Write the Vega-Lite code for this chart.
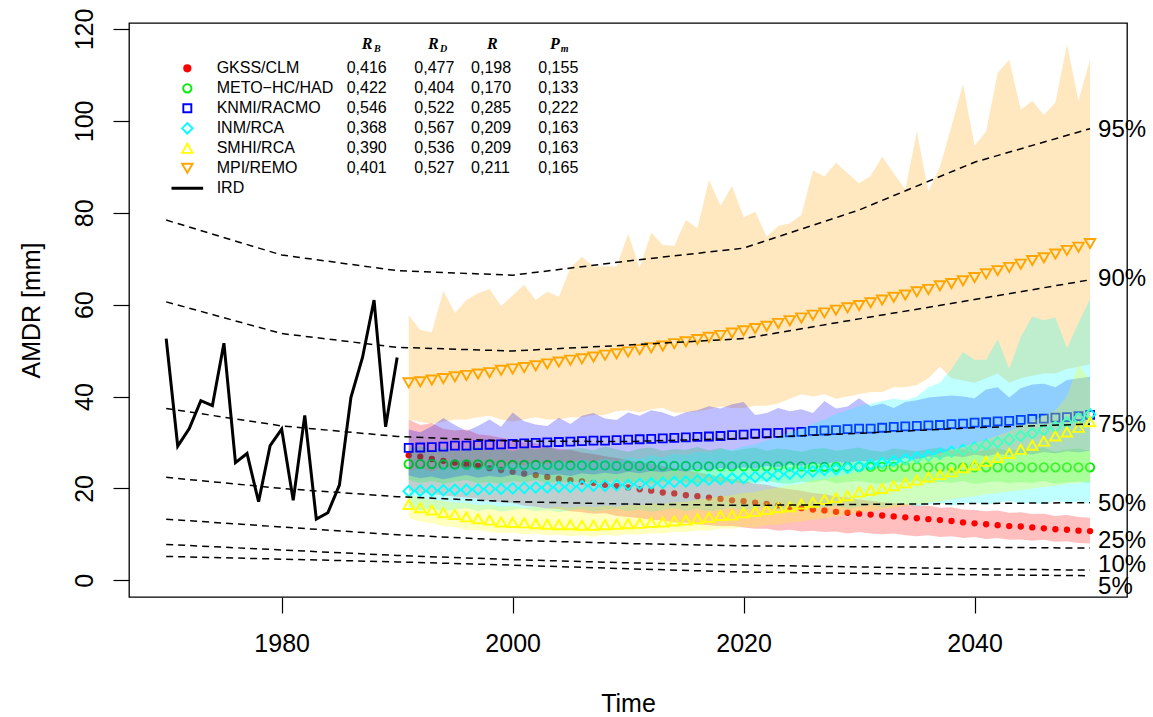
{
"$schema":"https://vega.github.io/schema/vega-lite/v6.json",
"width":998,"height":574,
"autosize":{"type":"none"},
"padding":{"left":129,"top":23,"right":26,"bottom":120},
"background":"white",
"config":{"view":{"stroke":"black","strokeWidth":1.3},"font":"Liberation Sans","text":{"font":"Liberation Sans"}},
"datasets":{
"ird":[{"year":1970,"v":52.6},{"year":1971,"v":29.2},{"year":1972,"v":33.0},{"year":1973,"v":39.1},{"year":1974,"v":38.0},{"year":1975,"v":51.6},{"year":1976,"v":25.6},{"year":1977,"v":27.6},{"year":1978,"v":17.1},{"year":1979,"v":29.3},{"year":1980,"v":32.9},{"year":1981,"v":17.4},{"year":1982,"v":35.9},{"year":1983,"v":13.3},{"year":1984,"v":14.7},{"year":1985,"v":20.7},{"year":1986,"v":39.8},{"year":1987,"v":48.5},{"year":1988,"v":61.0},{"year":1989,"v":33.4},{"year":1990,"v":48.5}],
"pct":[
{"p":"95","year":1970,"v":78.4},{"p":"95","year":1980,"v":70.8},{"p":"95","year":1990,"v":67.4},{"p":"95","year":2000,"v":66.4},{"p":"95","year":2010,"v":69.5},{"p":"95","year":2020,"v":72.3},{"p":"95","year":2030,"v":80.6},{"p":"95","year":2040,"v":91.0},{"p":"95","year":2050,"v":98.3},
{"p":"90","year":1970,"v":60.6},{"p":"90","year":1980,"v":53.7},{"p":"90","year":1990,"v":50.7},{"p":"90","year":2000,"v":49.9},{"p":"90","year":2010,"v":51.2},{"p":"90","year":2020,"v":52.6},{"p":"90","year":2030,"v":56.9},{"p":"90","year":2040,"v":61.1},{"p":"90","year":2050,"v":65.4},
{"p":"75","year":1970,"v":37.4},{"p":"75","year":1980,"v":33.6},{"p":"75","year":1990,"v":31.3},{"p":"75","year":2000,"v":30.3},{"p":"75","year":2010,"v":30.2},{"p":"75","year":2020,"v":30.9},{"p":"75","year":2030,"v":32.0},{"p":"75","year":2040,"v":33.2},{"p":"75","year":2050,"v":34.0},
{"p":"50","year":1970,"v":22.4},{"p":"50","year":1980,"v":20.0},{"p":"50","year":1990,"v":18.2},{"p":"50","year":2000,"v":17.1},{"p":"50","year":2010,"v":16.6},{"p":"50","year":2020,"v":16.3},{"p":"50","year":2030,"v":16.5},{"p":"50","year":2040,"v":16.7},{"p":"50","year":2050,"v":16.9},
{"p":"25","year":1970,"v":13.3},{"p":"25","year":1980,"v":11.6},{"p":"25","year":1990,"v":9.9},{"p":"25","year":2000,"v":8.7},{"p":"25","year":2010,"v":8.0},{"p":"25","year":2020,"v":7.5},{"p":"25","year":2030,"v":7.3},{"p":"25","year":2040,"v":7.2},{"p":"25","year":2050,"v":7.0},
{"p":"10","year":1970,"v":7.8},{"p":"10","year":1980,"v":6.6},{"p":"10","year":1990,"v":5.4},{"p":"10","year":2000,"v":4.5},{"p":"10","year":2010,"v":3.8},{"p":"10","year":2020,"v":3.3},{"p":"10","year":2030,"v":2.9},{"p":"10","year":2040,"v":2.5},{"p":"10","year":2050,"v":2.2},
{"p":"5","year":1970,"v":5.2},{"p":"5","year":1980,"v":4.6},{"p":"5","year":1990,"v":4.0},{"p":"5","year":2000,"v":3.3},{"p":"5","year":2010,"v":2.5},{"p":"5","year":2020,"v":1.8},{"p":"5","year":2030,"v":1.5},{"p":"5","year":2040,"v":1.2},{"p":"5","year":2050,"v":1.0}],
"plab":[{"year":2050,"v":98.0,"label":"95%"},{"year":2050,"v":65.6,"label":"90%"},{"year":2050,"v":33.8,"label":"75%"},{"year":2050,"v":16.7,"label":"50%"},{"year":2050,"v":8.5,"label":"25%"},{"year":2050,"v":3.3,"label":"10%"},{"year":2050,"v":-1.5,"label":"5%"}],
"gkss":[{"year":1991,"mean":27.2,"lo":19.5,"hi":35.0},{"year":1992,"mean":26.9,"lo":19.0,"hi":33.8},{"year":1993,"mean":26.4,"lo":18.8,"hi":34.2},{"year":1994,"mean":26.0,"lo":18.5,"hi":33.0},{"year":1995,"mean":25.6,"lo":18.2,"hi":32.6},{"year":1996,"mean":25.2,"lo":18.0,"hi":32.8},{"year":1997,"mean":24.9,"lo":17.8,"hi":31.8},{"year":1998,"mean":24.4,"lo":17.2,"hi":31.5},{"year":1999,"mean":24.0,"lo":17.0,"hi":31.0},{"year":2000,"mean":23.6,"lo":16.8,"hi":30.6},{"year":2001,"mean":23.2,"lo":16.2,"hi":30.0},{"year":2002,"mean":22.9,"lo":16.0,"hi":29.8},{"year":2003,"mean":22.5,"lo":15.6,"hi":29.0},{"year":2004,"mean":22.1,"lo":15.5,"hi":28.6},{"year":2005,"mean":21.8,"lo":15.0,"hi":28.4},{"year":2006,"mean":21.5,"lo":14.8,"hi":27.8},{"year":2007,"mean":21.2,"lo":14.5,"hi":27.5},{"year":2008,"mean":20.8,"lo":14.6,"hi":27.0},{"year":2009,"mean":20.5,"lo":14.0,"hi":26.6},{"year":2010,"mean":20.2,"lo":13.8,"hi":26.2},{"year":2011,"mean":19.8,"lo":13.5,"hi":25.6},{"year":2012,"mean":19.5,"lo":13.2,"hi":25.4},{"year":2013,"mean":19.1,"lo":13.0,"hi":24.8},{"year":2014,"mean":18.9,"lo":12.6,"hi":24.4},{"year":2015,"mean":18.5,"lo":12.5,"hi":24.0},{"year":2016,"mean":18.3,"lo":12.2,"hi":23.5},{"year":2017,"mean":18.0,"lo":12.0,"hi":23.0},{"year":2018,"mean":17.7,"lo":11.8,"hi":22.6},{"year":2019,"mean":17.4,"lo":11.8,"hi":22.0},{"year":2020,"mean":17.2,"lo":11.5,"hi":21.6},{"year":2021,"mean":16.9,"lo":11.2,"hi":21.0},{"year":2022,"mean":16.6,"lo":11.2,"hi":20.8},{"year":2023,"mean":16.3,"lo":10.8,"hi":20.2},{"year":2024,"mean":16.0,"lo":11.0,"hi":19.8},{"year":2025,"mean":15.7,"lo":10.6,"hi":19.5},{"year":2026,"mean":15.4,"lo":10.8,"hi":19.0},{"year":2027,"mean":15.2,"lo":10.5,"hi":18.8},{"year":2028,"mean":14.9,"lo":10.6,"hi":18.2},{"year":2029,"mean":14.7,"lo":10.2,"hi":18.0},{"year":2030,"mean":14.5,"lo":10.5,"hi":17.6},{"year":2031,"mean":14.3,"lo":10.2,"hi":17.3},{"year":2032,"mean":14.1,"lo":10.0,"hi":17.0},{"year":2033,"mean":13.9,"lo":10.2,"hi":16.8},{"year":2034,"mean":13.7,"lo":9.8,"hi":16.6},{"year":2035,"mean":13.5,"lo":9.6,"hi":16.3},{"year":2036,"mean":13.3,"lo":9.8,"hi":16.2},{"year":2037,"mean":13.1,"lo":9.4,"hi":15.8},{"year":2038,"mean":12.9,"lo":9.6,"hi":15.9},{"year":2039,"mean":12.6,"lo":9.2,"hi":15.4},{"year":2040,"mean":12.4,"lo":9.4,"hi":15.3},{"year":2041,"mean":12.2,"lo":9.0,"hi":15.0},{"year":2042,"mean":12.0,"lo":9.2,"hi":15.2},{"year":2043,"mean":11.8,"lo":8.8,"hi":14.7},{"year":2044,"mean":11.7,"lo":8.9,"hi":14.8},{"year":2045,"mean":11.5,"lo":8.6,"hi":14.4},{"year":2046,"mean":11.3,"lo":8.8,"hi":14.5},{"year":2047,"mean":11.1,"lo":8.4,"hi":14.0},{"year":2048,"mean":11.0,"lo":8.5,"hi":14.2},{"year":2049,"mean":10.8,"lo":8.1,"hi":13.8},{"year":2050,"mean":10.7,"lo":8.0,"hi":13.6}],
"meto":[{"year":1991,"mean":25.3,"lo":21.8,"hi":28.6},{"year":1992,"mean":25.3,"lo":21.2,"hi":29.2},{"year":1993,"mean":25.3,"lo":21.6,"hi":28.4},{"year":1994,"mean":25.2,"lo":21.0,"hi":28.9},{"year":1995,"mean":25.2,"lo":21.5,"hi":28.2},{"year":1996,"mean":25.2,"lo":21.8,"hi":28.8},{"year":1997,"mean":25.2,"lo":21.2,"hi":29.1},{"year":1998,"mean":25.2,"lo":21.4,"hi":28.3},{"year":1999,"mean":25.1,"lo":21.0,"hi":28.7},{"year":2000,"mean":25.1,"lo":21.6,"hi":28.1},{"year":2001,"mean":25.1,"lo":21.3,"hi":28.9},{"year":2002,"mean":25.1,"lo":21.8,"hi":28.4},{"year":2003,"mean":25.1,"lo":21.1,"hi":29.0},{"year":2004,"mean":25.0,"lo":21.5,"hi":28.2},{"year":2005,"mean":25.0,"lo":21.2,"hi":28.6},{"year":2006,"mean":25.0,"lo":21.7,"hi":28.8},{"year":2007,"mean":25.0,"lo":21.0,"hi":28.3},{"year":2008,"mean":25.0,"lo":21.4,"hi":29.1},{"year":2009,"mean":24.9,"lo":21.6,"hi":28.5},{"year":2010,"mean":24.9,"lo":21.2,"hi":28.0},{"year":2011,"mean":24.9,"lo":21.5,"hi":28.7},{"year":2012,"mean":24.9,"lo":21.0,"hi":28.9},{"year":2013,"mean":24.9,"lo":21.4,"hi":28.2},{"year":2014,"mean":24.9,"lo":21.8,"hi":28.6},{"year":2015,"mean":24.9,"lo":21.3,"hi":28.4},{"year":2016,"mean":24.8,"lo":21.1,"hi":29.0},{"year":2017,"mean":24.8,"lo":21.6,"hi":28.3},{"year":2018,"mean":24.8,"lo":21.2,"hi":28.8},{"year":2019,"mean":24.8,"lo":21.5,"hi":28.1},{"year":2020,"mean":24.8,"lo":21.0,"hi":28.6},{"year":2021,"mean":24.8,"lo":21.4,"hi":28.9},{"year":2022,"mean":24.8,"lo":21.7,"hi":28.2},{"year":2023,"mean":24.8,"lo":21.2,"hi":28.7},{"year":2024,"mean":24.8,"lo":21.0,"hi":28.4},{"year":2025,"mean":24.8,"lo":21.5,"hi":28.0},{"year":2026,"mean":24.7,"lo":21.3,"hi":28.6},{"year":2027,"mean":24.7,"lo":21.8,"hi":28.8},{"year":2028,"mean":24.7,"lo":21.1,"hi":28.2},{"year":2029,"mean":24.7,"lo":21.4,"hi":28.5},{"year":2030,"mean":24.7,"lo":21.6,"hi":28.9},{"year":2031,"mean":24.7,"lo":21.2,"hi":28.3},{"year":2032,"mean":24.7,"lo":21.0,"hi":28.0},{"year":2033,"mean":24.7,"lo":21.5,"hi":28.7},{"year":2034,"mean":24.7,"lo":21.3,"hi":28.4},{"year":2035,"mean":24.7,"lo":21.7,"hi":28.1},{"year":2036,"mean":24.6,"lo":21.1,"hi":28.6},{"year":2037,"mean":24.6,"lo":21.4,"hi":28.9},{"year":2038,"mean":24.6,"lo":21.2,"hi":28.2},{"year":2039,"mean":24.6,"lo":21.6,"hi":28.5},{"year":2040,"mean":24.6,"lo":21.0,"hi":28.0},{"year":2041,"mean":24.6,"lo":21.3,"hi":28.4},{"year":2042,"mean":24.6,"lo":21.5,"hi":28.8},{"year":2043,"mean":24.6,"lo":21.1,"hi":28.1},{"year":2044,"mean":24.6,"lo":21.4,"hi":28.6},{"year":2045,"mean":24.6,"lo":21.2,"hi":28.3},{"year":2046,"mean":24.6,"lo":21.6,"hi":28.9},{"year":2047,"mean":24.6,"lo":21.0,"hi":28.0},{"year":2048,"mean":24.6,"lo":21.3,"hi":28.5},{"year":2049,"mean":24.6,"lo":21.5,"hi":28.7},{"year":2050,"mean":24.6,"lo":21.2,"hi":28.2}],
"knmi":[{"year":1991,"mean":28.8,"lo":22.8,"hi":32.8},{"year":1992,"mean":28.9,"lo":22.2,"hi":32.2},{"year":1993,"mean":29.0,"lo":22.6,"hi":33.5},{"year":1994,"mean":29.1,"lo":22.0,"hi":35.3},{"year":1995,"mean":29.3,"lo":22.5,"hi":33.8},{"year":1996,"mean":29.3,"lo":22.9,"hi":32.5},{"year":1997,"mean":29.4,"lo":22.3,"hi":33.6},{"year":1998,"mean":29.5,"lo":22.7,"hi":35.0},{"year":1999,"mean":29.6,"lo":22.4,"hi":33.4},{"year":2000,"mean":29.7,"lo":23.0,"hi":36.5},{"year":2001,"mean":29.8,"lo":22.6,"hi":34.6},{"year":2002,"mean":29.9,"lo":23.2,"hi":33.9},{"year":2003,"mean":30.0,"lo":22.8,"hi":33.6},{"year":2004,"mean":30.1,"lo":23.1,"hi":35.4},{"year":2005,"mean":30.2,"lo":22.7,"hi":34.0},{"year":2006,"mean":30.3,"lo":23.3,"hi":35.8},{"year":2007,"mean":30.4,"lo":23.0,"hi":36.4},{"year":2008,"mean":30.4,"lo":23.4,"hi":35.2},{"year":2009,"mean":30.5,"lo":23.1,"hi":34.9},{"year":2010,"mean":30.6,"lo":23.6,"hi":36.5},{"year":2011,"mean":30.7,"lo":23.3,"hi":35.8},{"year":2012,"mean":30.8,"lo":23.8,"hi":37.0},{"year":2013,"mean":30.9,"lo":23.5,"hi":36.5},{"year":2014,"mean":31.0,"lo":24.0,"hi":35.6},{"year":2015,"mean":31.1,"lo":23.6,"hi":36.6},{"year":2016,"mean":31.2,"lo":24.2,"hi":37.0},{"year":2017,"mean":31.3,"lo":23.9,"hi":37.9},{"year":2018,"mean":31.4,"lo":24.4,"hi":37.4},{"year":2019,"mean":31.6,"lo":24.1,"hi":38.3},{"year":2020,"mean":31.7,"lo":24.6,"hi":38.8},{"year":2021,"mean":31.9,"lo":24.3,"hi":36.0},{"year":2022,"mean":32.0,"lo":24.9,"hi":36.4},{"year":2023,"mean":32.1,"lo":24.6,"hi":37.5},{"year":2024,"mean":32.2,"lo":25.2,"hi":36.8},{"year":2025,"mean":32.3,"lo":24.9,"hi":37.2},{"year":2026,"mean":32.5,"lo":25.5,"hi":36.4},{"year":2027,"mean":32.6,"lo":25.2,"hi":39.0},{"year":2028,"mean":32.7,"lo":25.8,"hi":37.4},{"year":2029,"mean":32.9,"lo":25.5,"hi":37.8},{"year":2030,"mean":33.0,"lo":26.0,"hi":39.6},{"year":2031,"mean":33.0,"lo":25.8,"hi":37.8},{"year":2032,"mean":33.2,"lo":26.3,"hi":38.5},{"year":2033,"mean":33.4,"lo":26.0,"hi":37.5},{"year":2034,"mean":33.5,"lo":26.6,"hi":38.8},{"year":2035,"mean":33.6,"lo":26.3,"hi":39.2},{"year":2036,"mean":33.7,"lo":26.9,"hi":39.8},{"year":2037,"mean":33.8,"lo":26.6,"hi":40.0},{"year":2038,"mean":34.0,"lo":27.1,"hi":40.2},{"year":2039,"mean":34.1,"lo":26.8,"hi":40.0},{"year":2040,"mean":34.3,"lo":27.3,"hi":39.6},{"year":2041,"mean":34.4,"lo":27.0,"hi":41.5},{"year":2042,"mean":34.6,"lo":27.5,"hi":42.0},{"year":2043,"mean":34.7,"lo":27.2,"hi":39.8},{"year":2044,"mean":34.9,"lo":27.7,"hi":41.8},{"year":2045,"mean":35.1,"lo":27.4,"hi":42.6},{"year":2046,"mean":35.2,"lo":27.9,"hi":42.8},{"year":2047,"mean":35.4,"lo":27.6,"hi":42.0},{"year":2048,"mean":35.5,"lo":28.1,"hi":43.6},{"year":2049,"mean":35.7,"lo":27.8,"hi":44.0},{"year":2050,"mean":36.0,"lo":28.2,"hi":44.3}],
"inm":[{"year":1991,"mean":19.4,"lo":15.8,"hi":23.8},{"year":1992,"mean":19.5,"lo":15.2,"hi":24.5},{"year":1993,"mean":19.5,"lo":15.6,"hi":23.6},{"year":1994,"mean":19.6,"lo":15.0,"hi":24.8},{"year":1995,"mean":19.7,"lo":15.4,"hi":24.2},{"year":1996,"mean":19.7,"lo":15.7,"hi":25.0},{"year":1997,"mean":19.8,"lo":15.1,"hi":24.4},{"year":1998,"mean":19.9,"lo":15.5,"hi":25.3},{"year":1999,"mean":19.9,"lo":14.9,"hi":24.6},{"year":2000,"mean":20.0,"lo":15.3,"hi":25.5},{"year":2001,"mean":20.1,"lo":15.6,"hi":24.9},{"year":2002,"mean":20.2,"lo":15.0,"hi":25.8},{"year":2003,"mean":20.2,"lo":15.4,"hi":25.2},{"year":2004,"mean":20.3,"lo":14.8,"hi":26.0},{"year":2005,"mean":20.3,"lo":15.2,"hi":25.5},{"year":2006,"mean":20.5,"lo":15.5,"hi":26.3},{"year":2007,"mean":20.6,"lo":14.9,"hi":25.8},{"year":2008,"mean":20.6,"lo":15.3,"hi":26.5},{"year":2009,"mean":20.7,"lo":15.6,"hi":26.0},{"year":2010,"mean":20.8,"lo":15.0,"hi":26.8},{"year":2011,"mean":21.0,"lo":15.4,"hi":26.4},{"year":2012,"mean":21.1,"lo":14.9,"hi":27.2},{"year":2013,"mean":21.2,"lo":15.3,"hi":26.8},{"year":2014,"mean":21.4,"lo":15.7,"hi":27.6},{"year":2015,"mean":21.5,"lo":15.1,"hi":27.3},{"year":2016,"mean":21.7,"lo":15.5,"hi":28.0},{"year":2017,"mean":21.9,"lo":15.0,"hi":27.8},{"year":2018,"mean":22.0,"lo":15.4,"hi":28.6},{"year":2019,"mean":22.2,"lo":15.8,"hi":28.4},{"year":2020,"mean":22.3,"lo":15.2,"hi":29.2},{"year":2021,"mean":22.5,"lo":15.6,"hi":29.6},{"year":2022,"mean":22.7,"lo":15.9,"hi":30.5},{"year":2023,"mean":23.0,"lo":15.3,"hi":31.0},{"year":2024,"mean":23.2,"lo":15.7,"hi":32.2},{"year":2025,"mean":23.5,"lo":16.0,"hi":33.0},{"year":2026,"mean":23.7,"lo":15.5,"hi":34.0},{"year":2027,"mean":24.0,"lo":15.9,"hi":35.0},{"year":2028,"mean":24.2,"lo":16.2,"hi":36.2},{"year":2029,"mean":24.5,"lo":15.6,"hi":37.0},{"year":2030,"mean":24.8,"lo":16.0,"hi":38.0},{"year":2031,"mean":25.2,"lo":16.4,"hi":38.4},{"year":2032,"mean":25.5,"lo":15.8,"hi":39.0},{"year":2033,"mean":25.9,"lo":16.2,"hi":39.5},{"year":2034,"mean":26.3,"lo":16.6,"hi":39.2},{"year":2035,"mean":26.7,"lo":16.0,"hi":40.0},{"year":2036,"mean":27.1,"lo":16.5,"hi":42.0},{"year":2037,"mean":27.5,"lo":16.8,"hi":43.0},{"year":2038,"mean":28.0,"lo":16.2,"hi":46.0},{"year":2039,"mean":28.4,"lo":16.6,"hi":49.7},{"year":2040,"mean":28.9,"lo":17.0,"hi":48.0},{"year":2041,"mean":29.5,"lo":16.4,"hi":48.0},{"year":2042,"mean":30.0,"lo":16.9,"hi":52.5},{"year":2043,"mean":30.6,"lo":17.2,"hi":46.0},{"year":2044,"mean":31.4,"lo":16.6,"hi":53.0},{"year":2045,"mean":32.0,"lo":17.0,"hi":57.4},{"year":2046,"mean":32.7,"lo":16.5,"hi":56.6},{"year":2047,"mean":33.4,"lo":17.3,"hi":57.2},{"year":2048,"mean":34.3,"lo":16.8,"hi":50.5},{"year":2049,"mean":35.2,"lo":17.1,"hi":56.0},{"year":2050,"mean":36.1,"lo":16.7,"hi":61.2}],
"smhi":[{"year":1991,"mean":16.5,"lo":13.5,"hi":18.6},{"year":1992,"mean":15.8,"lo":12.8,"hi":18.0},{"year":1993,"mean":15.3,"lo":12.4,"hi":17.6},{"year":1994,"mean":14.7,"lo":11.8,"hi":17.3},{"year":1995,"mean":14.3,"lo":11.6,"hi":16.9},{"year":1996,"mean":13.8,"lo":11.0,"hi":16.8},{"year":1997,"mean":13.4,"lo":10.9,"hi":16.4},{"year":1998,"mean":13.1,"lo":10.5,"hi":16.5},{"year":1999,"mean":12.7,"lo":10.3,"hi":16.0},{"year":2000,"mean":12.6,"lo":10.4,"hi":16.2},{"year":2001,"mean":12.5,"lo":10.0,"hi":15.8},{"year":2002,"mean":12.3,"lo":10.2,"hi":16.0},{"year":2003,"mean":12.2,"lo":9.8,"hi":15.7},{"year":2004,"mean":12.1,"lo":9.9,"hi":16.0},{"year":2005,"mean":12.1,"lo":9.6,"hi":15.8},{"year":2006,"mean":12.0,"lo":9.8,"hi":16.1},{"year":2007,"mean":12.0,"lo":9.5,"hi":15.9},{"year":2008,"mean":12.1,"lo":9.9,"hi":16.2},{"year":2009,"mean":12.2,"lo":9.7,"hi":16.0},{"year":2010,"mean":12.3,"lo":10.1,"hi":16.4},{"year":2011,"mean":12.4,"lo":9.9,"hi":16.3},{"year":2012,"mean":12.6,"lo":10.3,"hi":16.7},{"year":2013,"mean":12.7,"lo":10.2,"hi":16.6},{"year":2014,"mean":12.9,"lo":10.6,"hi":17.0},{"year":2015,"mean":13.1,"lo":10.5,"hi":17.1},{"year":2016,"mean":13.4,"lo":10.9,"hi":17.6},{"year":2017,"mean":13.7,"lo":10.8,"hi":17.8},{"year":2018,"mean":14.1,"lo":11.3,"hi":18.3},{"year":2019,"mean":14.2,"lo":11.2,"hi":18.5},{"year":2020,"mean":14.7,"lo":11.6,"hi":19.0},{"year":2021,"mean":15.0,"lo":11.5,"hi":19.2},{"year":2022,"mean":15.4,"lo":12.0,"hi":19.8},{"year":2023,"mean":15.8,"lo":12.1,"hi":20.2},{"year":2024,"mean":16.0,"lo":12.6,"hi":20.8},{"year":2025,"mean":16.6,"lo":12.8,"hi":21.0},{"year":2026,"mean":17.0,"lo":13.2,"hi":21.7},{"year":2027,"mean":17.6,"lo":13.5,"hi":22.0},{"year":2028,"mean":18.0,"lo":13.9,"hi":22.6},{"year":2029,"mean":18.4,"lo":14.2,"hi":23.0},{"year":2030,"mean":19.2,"lo":14.8,"hi":23.6},{"year":2031,"mean":19.6,"lo":15.0,"hi":24.0},{"year":2032,"mean":20.0,"lo":15.5,"hi":24.7},{"year":2033,"mean":20.6,"lo":15.7,"hi":25.0},{"year":2034,"mean":21.2,"lo":16.2,"hi":25.8},{"year":2035,"mean":21.8,"lo":16.5,"hi":26.4},{"year":2036,"mean":22.5,"lo":16.9,"hi":27.0},{"year":2037,"mean":23.0,"lo":17.2,"hi":27.6},{"year":2038,"mean":23.6,"lo":17.6,"hi":28.4},{"year":2039,"mean":24.5,"lo":18.0,"hi":29.0},{"year":2040,"mean":25.1,"lo":18.3,"hi":29.8},{"year":2041,"mean":25.9,"lo":18.7,"hi":30.6},{"year":2042,"mean":26.7,"lo":19.0,"hi":31.5},{"year":2043,"mean":27.6,"lo":19.4,"hi":32.4},{"year":2044,"mean":28.5,"lo":19.6,"hi":33.5},{"year":2045,"mean":29.4,"lo":20.0,"hi":34.6},{"year":2046,"mean":30.3,"lo":20.3,"hi":35.8},{"year":2047,"mean":31.4,"lo":20.6,"hi":37.0},{"year":2048,"mean":32.3,"lo":21.0,"hi":40.0},{"year":2049,"mean":33.3,"lo":21.2,"hi":47.0},{"year":2050,"mean":34.5,"lo":21.6,"hi":43.5}],
"mpi":[{"year":1991,"mean":43.0,"lo":35.0,"hi":57.7},{"year":1992,"mean":43.2,"lo":34.5,"hi":54.5},{"year":1993,"mean":43.6,"lo":34.0,"hi":54.0},{"year":1994,"mean":43.9,"lo":34.5,"hi":63.0},{"year":1995,"mean":44.3,"lo":35.0,"hi":58.2},{"year":1996,"mean":44.6,"lo":35.0,"hi":61.0},{"year":1997,"mean":44.9,"lo":35.5,"hi":62.5},{"year":1998,"mean":45.2,"lo":35.8,"hi":63.4},{"year":1999,"mean":45.7,"lo":35.0,"hi":59.7},{"year":2000,"mean":46.0,"lo":34.5,"hi":62.0},{"year":2001,"mean":46.3,"lo":35.0,"hi":64.3},{"year":2002,"mean":46.7,"lo":35.5,"hi":61.0},{"year":2003,"mean":47.1,"lo":35.0,"hi":62.8},{"year":2004,"mean":47.5,"lo":35.0,"hi":61.7},{"year":2005,"mean":47.9,"lo":35.5,"hi":68.0},{"year":2006,"mean":48.2,"lo":35.5,"hi":70.4},{"year":2007,"mean":48.6,"lo":36.0,"hi":68.3},{"year":2008,"mean":49.0,"lo":36.0,"hi":68.3},{"year":2009,"mean":49.3,"lo":36.8,"hi":68.3},{"year":2010,"mean":49.7,"lo":37.0,"hi":75.4},{"year":2011,"mean":50.2,"lo":36.5,"hi":68.0},{"year":2012,"mean":50.6,"lo":37.2,"hi":75.7},{"year":2013,"mean":51.0,"lo":37.5,"hi":73.0},{"year":2014,"mean":51.5,"lo":36.5,"hi":72.8},{"year":2015,"mean":51.9,"lo":36.5,"hi":78.4},{"year":2016,"mean":52.4,"lo":36.8,"hi":76.6},{"year":2017,"mean":52.9,"lo":37.2,"hi":87.1},{"year":2018,"mean":53.3,"lo":37.8,"hi":81.5},{"year":2019,"mean":53.8,"lo":37.5,"hi":85.8},{"year":2020,"mean":54.3,"lo":37.5,"hi":79.0},{"year":2021,"mean":54.8,"lo":38.0,"hi":80.2},{"year":2022,"mean":55.3,"lo":38.0,"hi":74.8},{"year":2023,"mean":55.9,"lo":38.5,"hi":77.1},{"year":2024,"mean":56.5,"lo":39.5,"hi":77.7},{"year":2025,"mean":57.1,"lo":40.5,"hi":79.5},{"year":2026,"mean":57.7,"lo":40.0,"hi":89.2},{"year":2027,"mean":58.2,"lo":40.5,"hi":87.9},{"year":2028,"mean":58.8,"lo":39.5,"hi":90.9},{"year":2029,"mean":59.3,"lo":40.0,"hi":88.6},{"year":2030,"mean":59.8,"lo":40.5,"hi":86.4},{"year":2031,"mean":60.4,"lo":41.0,"hi":88.0},{"year":2032,"mean":61.0,"lo":41.0,"hi":92.2},{"year":2033,"mean":61.6,"lo":42.0,"hi":88.6},{"year":2034,"mean":62.1,"lo":42.0,"hi":85.0},{"year":2035,"mean":62.8,"lo":42.5,"hi":97.7},{"year":2036,"mean":63.3,"lo":44.0,"hi":84.6},{"year":2037,"mean":64.1,"lo":46.5,"hi":90.0},{"year":2038,"mean":64.6,"lo":44.0,"hi":98.8},{"year":2039,"mean":65.2,"lo":43.5,"hi":108.0},{"year":2040,"mean":65.9,"lo":43.0,"hi":94.6},{"year":2041,"mean":66.7,"lo":44.0,"hi":97.7},{"year":2042,"mean":67.4,"lo":45.0,"hi":110.4},{"year":2043,"mean":68.1,"lo":43.0,"hi":113.3},{"year":2044,"mean":68.8,"lo":44.0,"hi":102.4},{"year":2045,"mean":69.6,"lo":44.5,"hi":104.4},{"year":2046,"mean":70.2,"lo":45.0,"hi":101.3},{"year":2047,"mean":71.0,"lo":45.0,"hi":104.0},{"year":2048,"mean":71.8,"lo":46.0,"hi":116.6},{"year":2049,"mean":72.5,"lo":46.5,"hi":104.4},{"year":2050,"mean":73.3,"lo":47.0,"hi":113.4}],
"leg":[{"model":"GKSS/CLM","RB":"0,416","RD":"0,477","R":"0,198","Pm":"0,155"},{"model":"METO−HC/HAD","RB":"0,422","RD":"0,404","R":"0,170","Pm":"0,133"},{"model":"KNMI/RACMO","RB":"0,546","RD":"0,522","R":"0,285","Pm":"0,222"},{"model":"INM/RCA","RB":"0,368","RD":"0,567","R":"0,209","Pm":"0,163"},{"model":"SMHI/RCA","RB":"0,390","RD":"0,536","R":"0,209","Pm":"0,163"},{"model":"MPI/REMO","RB":"0,401","RD":"0,527","R":"0,211","Pm":"0,165"},{"model":"IRD","RB":"","RD":"","R":"","Pm":""}]
},
"layer":[
{"layer":[
{"data":{"name":"mpi"},"mark":{"type":"area","color":"#FFA500","opacity":0.25},"encoding":{
"x":{"field":"year","type":"quantitative","scale":{"domain":[1966.78,2053.2],"nice":false,"zero":false},"axis":{"title":"Time","values":[1980,2000,2020,2040],"format":"d","grid":false,"domain":false,"tickSize":16,"tickWidth":1.2,"tickColor":"black","labelFontSize":25,"labelPadding":18,"labelBaseline":"top","labelColor":"black","labelFlush":false,"labelOverlap":false,"titleFontSize":25,"titleFontWeight":"normal","titleColor":"black","titleY":114,"titleBaseline":"alphabetic"}},
"y":{"field":"lo","type":"quantitative","scale":{"domain":[-3.64,121.3],"nice":false,"zero":false},"axis":{"title":"AMDR [mm]","values":[0,20,40,60,80,100,120],"grid":false,"domain":false,"tickSize":16,"tickWidth":1.2,"tickColor":"black","labelFontSize":25,"labelAngle":270,"labelAlign":"center","labelBaseline":"alphabetic","labelPadding":21,"labelColor":"black","labelFlush":false,"labelOverlap":false,"titleFontSize":25,"titleFontWeight":"normal","titleColor":"black","titleX":-90,"titleBaseline":"alphabetic","titleAngle":270}},
"y2":{"field":"hi"}}},
{"data":{"name":"gkss"},"mark":{"type":"area","color":"#FF0000","opacity":0.25},"encoding":{"x":{"field":"year","type":"quantitative","scale":{"domain":[1966.78,2053.2],"nice":false,"zero":false}},"y":{"field":"lo","type":"quantitative","scale":{"domain":[-3.64,121.3],"nice":false,"zero":false}},"y2":{"field":"hi"}}},
{"data":{"name":"gkss"},"mark":{"type":"point","shape":"circle","filled":true,"color":"#FF0000","size":40,"opacity":1},"encoding":{"x":{"field":"year","type":"quantitative","scale":{"domain":[1966.78,2053.2],"nice":false,"zero":false}},"y":{"field":"mean","type":"quantitative","scale":{"domain":[-3.64,121.3],"nice":false,"zero":false}}}},
{"data":{"name":"meto"},"mark":{"type":"area","color":"#00FF00","opacity":0.25},"encoding":{"x":{"field":"year","type":"quantitative","scale":{"domain":[1966.78,2053.2],"nice":false,"zero":false}},"y":{"field":"lo","type":"quantitative","scale":{"domain":[-3.64,121.3],"nice":false,"zero":false}},"y2":{"field":"hi"}}},
{"data":{"name":"meto"},"mark":{"type":"point","shape":"circle","filled":false,"color":"#00EE00","strokeWidth":1.9,"size":70,"opacity":1},"encoding":{"x":{"field":"year","type":"quantitative","scale":{"domain":[1966.78,2053.2],"nice":false,"zero":false}},"y":{"field":"mean","type":"quantitative","scale":{"domain":[-3.64,121.3],"nice":false,"zero":false}}}},
{"data":{"name":"knmi"},"mark":{"type":"area","color":"#0000FF","opacity":0.25},"encoding":{"x":{"field":"year","type":"quantitative","scale":{"domain":[1966.78,2053.2],"nice":false,"zero":false}},"y":{"field":"lo","type":"quantitative","scale":{"domain":[-3.64,121.3],"nice":false,"zero":false}},"y2":{"field":"hi"}}},
{"data":{"name":"knmi"},"mark":{"type":"point","shape":"square","filled":false,"color":"#0000FF","strokeWidth":1.8,"size":64,"opacity":1},"encoding":{"x":{"field":"year","type":"quantitative","scale":{"domain":[1966.78,2053.2],"nice":false,"zero":false}},"y":{"field":"mean","type":"quantitative","scale":{"domain":[-3.64,121.3],"nice":false,"zero":false}}}},
{"data":{"name":"inm"},"mark":{"type":"area","color":"#00FFFF","opacity":0.25},"encoding":{"x":{"field":"year","type":"quantitative","scale":{"domain":[1966.78,2053.2],"nice":false,"zero":false}},"y":{"field":"lo","type":"quantitative","scale":{"domain":[-3.64,121.3],"nice":false,"zero":false}},"y2":{"field":"hi"}}},
{"data":{"name":"inm"},"mark":{"type":"point","shape":"diamond","filled":false,"color":"#00FFFF","strokeWidth":1.9,"size":110,"opacity":1},"encoding":{"x":{"field":"year","type":"quantitative","scale":{"domain":[1966.78,2053.2],"nice":false,"zero":false}},"y":{"field":"mean","type":"quantitative","scale":{"domain":[-3.64,121.3],"nice":false,"zero":false}}}},
{"data":{"name":"smhi"},"mark":{"type":"area","color":"#FFFF00","opacity":0.25},"encoding":{"x":{"field":"year","type":"quantitative","scale":{"domain":[1966.78,2053.2],"nice":false,"zero":false}},"y":{"field":"lo","type":"quantitative","scale":{"domain":[-3.64,121.3],"nice":false,"zero":false}},"y2":{"field":"hi"}}},
{"data":{"name":"smhi"},"mark":{"type":"point","shape":"triangle-up","filled":false,"color":"#FFFF00","strokeWidth":1.9,"size":110,"opacity":1},"encoding":{"x":{"field":"year","type":"quantitative","scale":{"domain":[1966.78,2053.2],"nice":false,"zero":false}},"y":{"field":"mean","type":"quantitative","scale":{"domain":[-3.64,121.3],"nice":false,"zero":false}}}},
{"data":{"name":"mpi"},"mark":{"type":"point","shape":"triangle-down","filled":false,"color":"#FFA500","strokeWidth":1.9,"size":110,"opacity":1},"encoding":{"x":{"field":"year","type":"quantitative","scale":{"domain":[1966.78,2053.2],"nice":false,"zero":false}},"y":{"field":"mean","type":"quantitative","scale":{"domain":[-3.64,121.3],"nice":false,"zero":false}}}},
{"data":{"name":"pct"},"mark":{"type":"line","color":"black","strokeWidth":1.5,"strokeDash":[7,5]},"encoding":{"x":{"field":"year","type":"quantitative","scale":{"domain":[1966.78,2053.2],"nice":false,"zero":false}},"y":{"field":"v","type":"quantitative","scale":{"domain":[-3.64,121.3],"nice":false,"zero":false}},"detail":{"field":"p"}}},
{"data":{"name":"ird"},"mark":{"type":"line","color":"black","strokeWidth":3},"encoding":{"x":{"field":"year","type":"quantitative","scale":{"domain":[1966.78,2053.2],"nice":false,"zero":false}},"y":{"field":"v","type":"quantitative","scale":{"domain":[-3.64,121.3],"nice":false,"zero":false}}}},
{"data":{"name":"plab"},"mark":{"type":"text","align":"left","baseline":"middle","dx":8,"fontSize":24,"color":"black"},"encoding":{"x":{"field":"year","type":"quantitative","scale":{"domain":[1966.78,2053.2],"nice":false,"zero":false}},"y":{"field":"v","type":"quantitative","scale":{"domain":[-3.64,121.3],"nice":false,"zero":false}},"text":{"field":"label"}}}
]},
{"data":{"name":"leg"},"layer":[
{"mark":{"type":"point","filled":false,"opacity":1},"encoding":{
"x":{"datum":1971.83,"type":"quantitative","scale":{"domain":[1966.78,2053.2],"nice":false,"zero":false},"axis":null},
"y":{"field":"model","type":"nominal","scale":{"type":"point","domain":["header","GKSS/CLM","METO−HC/HAD","KNMI/RACMO","INM/RCA","SMHI/RCA","MPI/REMO","IRD"],"range":[25.3,165.3],"padding":0},"axis":null},
"shape":{"field":"model","type":"nominal","scale":{"domain":["GKSS/CLM","METO−HC/HAD","KNMI/RACMO","INM/RCA","SMHI/RCA","MPI/REMO","IRD"],"range":["circle","circle","square","diamond","triangle-up","triangle-down","stroke"]},"legend":null},
"stroke":{"field":"model","type":"nominal","scale":{"domain":["GKSS/CLM","METO−HC/HAD","KNMI/RACMO","INM/RCA","SMHI/RCA","MPI/REMO","IRD"],"range":["#FF0000","#00EE00","#0000FF","#00FFFF","#FFFF00","#FFA500","#000000"]},"legend":null},
"fill":{"condition":{"test":"datum.model === 'GKSS/CLM'","value":"#FF0000"},"value":"transparent"},
"size":{"condition":[{"test":"datum.model === 'IRD'","value":1000},{"test":"datum.model === 'GKSS/CLM'","value":40},{"test":"datum.model === 'KNMI/RACMO'","value":64},{"test":"datum.model === 'METO−HC/HAD'","value":70}],"value":110},
"strokeWidth":{"condition":{"test":"datum.model === 'IRD'","value":3},"value":1.9}}},
{"mark":{"type":"text","align":"left","baseline":"middle","fontSize":16,"color":"black"},"encoding":{"x":{"datum":1974.37,"type":"quantitative","scale":{"domain":[1966.78,2053.2],"nice":false,"zero":false},"axis":null},"y":{"field":"model","type":"nominal","scale":{"type":"point","domain":["header","GKSS/CLM","METO−HC/HAD","KNMI/RACMO","INM/RCA","SMHI/RCA","MPI/REMO","IRD"],"range":[25.3,165.3],"padding":0},"axis":null},"text":{"field":"model"}}},
{"mark":{"type":"text","align":"left","baseline":"middle","fontSize":16,"color":"black"},"encoding":{"x":{"datum":1985.63,"type":"quantitative","scale":{"domain":[1966.78,2053.2],"nice":false,"zero":false},"axis":null},"y":{"field":"model","type":"nominal","scale":{"type":"point","domain":["header","GKSS/CLM","METO−HC/HAD","KNMI/RACMO","INM/RCA","SMHI/RCA","MPI/REMO","IRD"],"range":[25.3,165.3],"padding":0},"axis":null},"text":{"field":"RB"}}},
{"mark":{"type":"text","align":"left","baseline":"middle","fontSize":16,"color":"black"},"encoding":{"x":{"datum":1991.49,"type":"quantitative","scale":{"domain":[1966.78,2053.2],"nice":false,"zero":false},"axis":null},"y":{"field":"model","type":"nominal","scale":{"type":"point","domain":["header","GKSS/CLM","METO−HC/HAD","KNMI/RACMO","INM/RCA","SMHI/RCA","MPI/REMO","IRD"],"range":[25.3,165.3],"padding":0},"axis":null},"text":{"field":"RD"}}},
{"mark":{"type":"text","align":"left","baseline":"middle","fontSize":16,"color":"black"},"encoding":{"x":{"datum":1996.40,"type":"quantitative","scale":{"domain":[1966.78,2053.2],"nice":false,"zero":false},"axis":null},"y":{"field":"model","type":"nominal","scale":{"type":"point","domain":["header","GKSS/CLM","METO−HC/HAD","KNMI/RACMO","INM/RCA","SMHI/RCA","MPI/REMO","IRD"],"range":[25.3,165.3],"padding":0},"axis":null},"text":{"field":"R"}}},
{"mark":{"type":"text","align":"left","baseline":"middle","fontSize":16,"color":"black"},"encoding":{"x":{"datum":2002.22,"type":"quantitative","scale":{"domain":[1966.78,2053.2],"nice":false,"zero":false},"axis":null},"y":{"field":"model","type":"nominal","scale":{"type":"point","domain":["header","GKSS/CLM","METO−HC/HAD","KNMI/RACMO","INM/RCA","SMHI/RCA","MPI/REMO","IRD"],"range":[25.3,165.3],"padding":0},"axis":null},"text":{"field":"Pm"}}},
{"data":{"values":[{"model":"header"}]},"mark":{"type":"text","text":"R","font":"Liberation Serif","fontStyle":"italic","fontWeight":"bold","fontSize":16,"align":"left","baseline":"middle","dy":-4,"color":"black"},"encoding":{"x":{"datum":1986.93,"type":"quantitative","scale":{"domain":[1966.78,2053.2],"nice":false,"zero":false},"axis":null},"y":{"field":"model","type":"nominal","scale":{"type":"point","domain":["header","GKSS/CLM","METO−HC/HAD","KNMI/RACMO","INM/RCA","SMHI/RCA","MPI/REMO","IRD"],"range":[25.3,165.3],"padding":0},"axis":null}}},
{"data":{"values":[{"model":"header"}]},"mark":{"type":"text","text":"B","font":"Liberation Serif","fontStyle":"italic","fontWeight":"bold","fontSize":10,"align":"left","baseline":"middle","dy":1,"color":"black"},"encoding":{"x":{"datum":1987.99,"type":"quantitative","scale":{"domain":[1966.78,2053.2],"nice":false,"zero":false},"axis":null},"y":{"field":"model","type":"nominal","scale":{"type":"point","domain":["header","GKSS/CLM","METO−HC/HAD","KNMI/RACMO","INM/RCA","SMHI/RCA","MPI/REMO","IRD"],"range":[25.3,165.3],"padding":0},"axis":null}}},
{"data":{"values":[{"model":"header"}]},"mark":{"type":"text","text":"R","font":"Liberation Serif","fontStyle":"italic","fontWeight":"bold","fontSize":16,"align":"left","baseline":"middle","dy":-4,"color":"black"},"encoding":{"x":{"datum":1992.67,"type":"quantitative","scale":{"domain":[1966.78,2053.2],"nice":false,"zero":false},"axis":null},"y":{"field":"model","type":"nominal","scale":{"type":"point","domain":["header","GKSS/CLM","METO−HC/HAD","KNMI/RACMO","INM/RCA","SMHI/RCA","MPI/REMO","IRD"],"range":[25.3,165.3],"padding":0},"axis":null}}},
{"data":{"values":[{"model":"header"}]},"mark":{"type":"text","text":"D","font":"Liberation Serif","fontStyle":"italic","fontWeight":"bold","fontSize":10,"align":"left","baseline":"middle","dy":1,"color":"black"},"encoding":{"x":{"datum":1993.71,"type":"quantitative","scale":{"domain":[1966.78,2053.2],"nice":false,"zero":false},"axis":null},"y":{"field":"model","type":"nominal","scale":{"type":"point","domain":["header","GKSS/CLM","METO−HC/HAD","KNMI/RACMO","INM/RCA","SMHI/RCA","MPI/REMO","IRD"],"range":[25.3,165.3],"padding":0},"axis":null}}},
{"data":{"values":[{"model":"header"}]},"mark":{"type":"text","text":"R","font":"Liberation Serif","fontStyle":"italic","fontWeight":"bold","fontSize":16,"align":"left","baseline":"middle","dy":-4,"color":"black"},"encoding":{"x":{"datum":1997.78,"type":"quantitative","scale":{"domain":[1966.78,2053.2],"nice":false,"zero":false},"axis":null},"y":{"field":"model","type":"nominal","scale":{"type":"point","domain":["header","GKSS/CLM","METO−HC/HAD","KNMI/RACMO","INM/RCA","SMHI/RCA","MPI/REMO","IRD"],"range":[25.3,165.3],"padding":0},"axis":null}}},
{"data":{"values":[{"model":"header"}]},"mark":{"type":"text","text":"P","font":"Liberation Serif","fontStyle":"italic","fontWeight":"bold","fontSize":16,"align":"left","baseline":"middle","dy":-4,"color":"black"},"encoding":{"x":{"datum":2003.24,"type":"quantitative","scale":{"domain":[1966.78,2053.2],"nice":false,"zero":false},"axis":null},"y":{"field":"model","type":"nominal","scale":{"type":"point","domain":["header","GKSS/CLM","METO−HC/HAD","KNMI/RACMO","INM/RCA","SMHI/RCA","MPI/REMO","IRD"],"range":[25.3,165.3],"padding":0},"axis":null}}},
{"data":{"values":[{"model":"header"}]},"mark":{"type":"text","text":"m","font":"Liberation Serif","fontStyle":"italic","fontWeight":"bold","fontSize":10,"align":"left","baseline":"middle","dy":1,"color":"black"},"encoding":{"x":{"datum":2004.16,"type":"quantitative","scale":{"domain":[1966.78,2053.2],"nice":false,"zero":false},"axis":null},"y":{"field":"model","type":"nominal","scale":{"type":"point","domain":["header","GKSS/CLM","METO−HC/HAD","KNMI/RACMO","INM/RCA","SMHI/RCA","MPI/REMO","IRD"],"range":[25.3,165.3],"padding":0},"axis":null}}}
]}
],
"resolve":{"scale":{"x":"independent","y":"independent"}}
}
